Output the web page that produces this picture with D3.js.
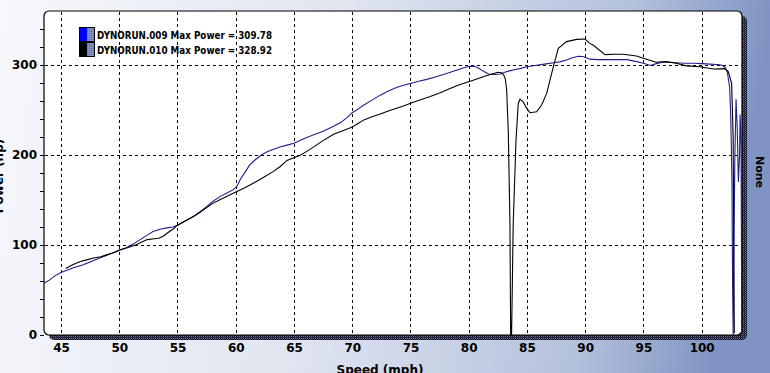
<!DOCTYPE html>
<html>
<head>
    <script type="text/javascript" src="https://cdn.jsdelivr.net/npm/d3@7/dist/d3.min.js" charset="utf-8"></script>
    <style>
        html, body { margin: 0; padding: 0; overflow: hidden; }
        svg { display: block; }
        text { font-family: "DejaVu Sans", Verdana, sans-serif; font-weight: bold; }
    </style>
</head>
<body>
    <div id="viz"></div>
    <script type="text/javascript">
    //Size of the picture
    var width = 770;
    var height = 373;

    //Plot frame (pixels)
    var plotLeft = 44, plotTop = 11, plotRight = 742, plotBottom = 335;

    //Tick values
    var speedTicks = [45, 50, 55, 60, 65, 70, 75, 80, 85, 90, 95, 100];
    var powerTicks = [0, 100, 200, 300];
    var powerMinorTicks = [20, 40, 60, 80, 120, 140, 160, 180, 220, 240, 260, 280, 320, 340];

    //Legend labels
    var runNames = ["DYNORUN.009 Max Power = 309.78", "DYNORUN.010 Max Power = 328.92"];

    //DYNORUN.009 (speed in mph, power in hp)
    var run009Speed = [43.54, 44.0, 44.5, 45.0, 45.5, 46.0, 46.9, 47.5, 48.0, 49.0, 50.0, 50.6, 51.2, 51.8, 52.4, 52.9,
        53.5, 54.1, 54.6, 55.0, 55.7, 56.4, 57.0, 57.5, 58.0, 58.6, 59.2, 59.8, 60.1, 60.4, 60.8, 61.2, 61.7, 62.2,
        62.7, 63.2, 63.8, 64.4, 65.0, 65.5, 66.1, 66.8, 67.5, 68.0, 68.4, 69.0, 69.5, 70.0, 70.5, 71.0, 71.7, 72.4,
        73.1, 73.8, 74.4, 75.0, 75.7, 76.4, 77.2, 78.1, 78.8, 79.4, 80.0, 80.5, 80.9, 81.2, 81.7, 82.2, 82.7, 83.1,
        83.5, 84.0, 84.4, 85.0, 85.7, 86.5, 87.3, 87.8, 88.4, 88.9, 89.4, 89.8, 90.1, 90.4, 91.0, 92.0, 93.0, 93.6,
        94.3, 95.0, 95.6, 96.1, 96.7, 97.2, 97.8, 98.5, 99.3, 100.0, 100.7, 101.3, 101.7, 102.0, 102.2, 102.4, 102.5,
        102.6, 102.65, 102.7, 102.75, 102.85, 102.95, 103.05, 103.15, 103.25, 103.3, 103.38, 103.44];
    var run009Power = [57.5, 61, 66, 69.5, 72, 74.5, 78, 81, 84, 89, 94, 97, 101, 106, 111, 115,
        117.5, 119, 120, 122, 127, 132, 137.5, 142.5, 148, 153.5, 157.5, 161.5, 165, 173, 181, 189, 195, 200,
        203.5, 206, 209, 211, 213, 216, 219.5, 223, 226.5, 229.5, 232, 236, 241, 247, 251, 255.5, 261, 266.5,
        271, 275, 277.5, 279.5, 282, 284, 287, 290.5, 293.5, 296, 298.5, 298.5, 296, 293.5, 290, 289.5, 290, 292,
        293.5, 295, 296, 298, 299.5, 301, 302.5, 303.5, 305.5, 308, 309.8, 309.5, 308, 306.5, 306, 306, 306, 306,
        304, 302, 299.5, 301.5, 303.5, 303, 302.5, 302, 302, 301.5, 301, 300.5, 300, 297.5, 292, 275, 240,
        170, 60, 0, 80, 200, 262, 230, 170, 200, 245, 210, 5];

    //DYNORUN.010 (speed in mph, power in hp)
    var run010Speed = [45.4, 46.0, 46.6, 47.2, 47.8, 48.4, 48.9, 49.5, 50.0, 50.7, 51.4, 51.9, 52.4, 53.0, 53.4, 53.8,
        54.1, 54.6, 55.0, 55.7, 56.4, 57.0, 57.5, 58.0, 58.6, 59.3, 60.0, 60.7, 61.5, 62.3, 63.2, 63.8, 64.4, 65.0,
        65.5, 66.1, 66.7, 67.5, 68.4, 69.2, 70.0, 70.5, 71.0, 71.7, 72.4, 73.1, 73.8, 74.4, 75.0, 75.8, 76.7, 77.5,
        78.4, 79.2, 80.0, 80.7, 81.5, 82.0, 82.5, 82.8, 83.0, 83.15, 83.26, 83.4, 83.54, 83.6, 83.68, 83.82, 84.06,
        84.25, 84.4, 84.68, 84.97, 85.26, 85.83, 86.26, 86.69, 87.26, 87.69, 88.4, 89.27, 89.98, 90.4, 90.7, 91.7,
        92.5, 93.27, 94.4, 95.6, 96.1, 96.97, 97.8, 98.7, 99.85, 101.0, 102.0, 102.28, 102.57, 102.7, 102.8];
    var run010Power = [74, 78, 81.5, 83.5, 85.5, 87, 89, 91.5, 94.5, 97, 100, 103, 106, 107, 107.5, 110,
        113, 117.5, 122, 127, 132, 137, 141.5, 146, 150, 154.5, 159, 163, 168.5, 174.5, 181.5, 187, 194, 197,
        199.5, 204, 209, 216, 223, 227, 231, 235, 239, 242.5, 245.5, 249, 252, 254.5, 257.5, 261, 265, 269,
        274, 278, 281.5, 284.5, 288, 290, 292, 291.5, 289, 284, 272, 224, 124, 0, 0, 124, 217,
        257, 262, 259, 252, 247, 248, 255.5, 268.5, 298, 318.5, 326, 328.5, 328.9, 324, 322, 311.5,
        312, 312, 310, 305, 303, 303.7, 302, 299, 298, 295.6, 296, 292.6, 279.6, 220, 2];

    //Scales
    var x = d3.scaleLinear().domain([43.54, 103.46]).range([plotLeft, plotRight]);
    var y = d3.scaleLinear().domain([0, 360]).range([plotBottom, plotTop]);

    //Main SVG
    var svg = d3.select("#viz").append("svg")
        .attr("width", width)
        .attr("height", height);

    var defs = svg.append("defs");

    //Background gradient (light on the left, steel blue on the right)
    var bg = defs.append("linearGradient").attr("id", "bg")
        .attr("x1", "0%").attr("y1", "0%").attr("x2", "100%").attr("y2", "8%");
    bg.append("stop").attr("offset", "0%").attr("stop-color", "#f7f8fc");
    bg.append("stop").attr("offset", "45%").attr("stop-color", "#e0e5f0");
    bg.append("stop").attr("offset", "82%").attr("stop-color", "#b4c1dc");
    bg.append("stop").attr("offset", "100%").attr("stop-color", "#7f94c3");

    //Dotted dark pattern for the frame shadow
    var shade = defs.append("pattern").attr("id", "shade")
        .attr("width", 2).attr("height", 2).attr("patternUnits", "userSpaceOnUse");
    shade.append("rect").attr("width", 2).attr("height", 2).attr("fill", "#15152a");
    shade.append("rect").attr("x", 1).attr("width", 1).attr("height", 1).attr("fill", "#7070a8");
    shade.append("rect").attr("y", 1).attr("width", 1).attr("height", 1).attr("fill", "#3a3a58");

    //Dotted pattern for the legend swatches
    var swatch = defs.append("pattern").attr("id", "swatch")
        .attr("width", 2).attr("height", 2).attr("patternUnits", "userSpaceOnUse");
    swatch.append("rect").attr("width", 2).attr("height", 2).attr("fill", "#8593c4");
    swatch.append("rect").attr("width", 1).attr("height", 1).attr("fill", "#5a68a0");

    defs.append("clipPath").attr("id", "plotClip")
        .append("rect").attr("x", plotLeft).attr("y", plotTop)
        .attr("width", plotRight - plotLeft).attr("height", plotBottom - plotTop);

    svg.append("rect").attr("width", width).attr("height", height).attr("fill", "url(#bg)");

    //Frame with shadow
    svg.append("rect")
        .attr("x", plotLeft + 5).attr("y", plotTop + 5)
        .attr("width", plotRight - plotLeft).attr("height", plotBottom - plotTop)
        .attr("rx", 5).attr("fill", "url(#shade)");
    svg.append("rect")
        .attr("x", plotLeft).attr("y", plotTop)
        .attr("width", plotRight - plotLeft).attr("height", plotBottom - plotTop)
        .attr("rx", 5).attr("fill", "#ffffff")
        .attr("stroke", "#000").attr("stroke-width", 1.2);

    //Grid
    var grid = svg.append("g").attr("stroke", "#000").attr("stroke-width", 1).attr("stroke-dasharray", "3,3");
    grid.selectAll(".vx").data(speedTicks).enter().append("line")
        .attr("x1", function(d) { return Math.round(x(d)) + 0.5; })
        .attr("x2", function(d) { return Math.round(x(d)) + 0.5; })
        .attr("y1", plotTop + 1).attr("y2", plotBottom);
    grid.selectAll(".hy").data(powerTicks.filter(function(d) { return d > 0; })).enter().append("line")
        .attr("y1", function(d) { return Math.round(y(d)) + 0.5; })
        .attr("y2", function(d) { return Math.round(y(d)) + 0.5; })
        .attr("x1", plotLeft + 1).attr("x2", plotRight);

    //Axes
    var yMajor = svg.append("g").attr("transform", "translate(" + plotLeft + ",0)")
        .call(d3.axisLeft(y).tickValues(powerTicks).tickSize(4).tickPadding(3));
    var yMinor = svg.append("g").attr("transform", "translate(" + plotLeft + ",0)")
        .call(d3.axisLeft(y).tickValues(powerMinorTicks).tickSize(4).tickFormat(""));
    var xAxis = svg.append("g").attr("transform", "translate(0," + plotBottom + ")")
        .call(d3.axisBottom(x).tickValues(speedTicks).tickSize(0).tickPadding(8.5));

    [yMajor, yMinor, xAxis].forEach(function(g) {
        g.select(".domain").remove();
        g.selectAll("text").attr("font-size", 12).attr("font-family", "DejaVu Sans").attr("font-weight", "bold").attr("fill", "#000");
        g.selectAll("line").attr("stroke", "#000");
    });

    //Axis titles
    svg.append("text").attr("x", 380).attr("y", 374).attr("text-anchor", "middle")
        .attr("font-size", 12).text("Speed (mph)");
    svg.append("text").attr("transform", "translate(3,176) rotate(-90)").attr("text-anchor", "middle")
        .attr("font-size", 12).text("Power (hp)");
    svg.append("text").attr("transform", "translate(756,172) rotate(90)").attr("text-anchor", "middle")
        .attr("font-size", 11).text("None");

    //Curves
    var line = d3.line().x(function(d) { return x(d[0]); }).y(function(d) { return y(d[1]); });
    var plot = svg.append("g").attr("clip-path", "url(#plotClip)");

    plot.append("path")
        .datum(d3.zip(run009Speed, run009Power))
        .attr("d", line).attr("fill", "none")
        .attr("stroke", "#1e1e8c").attr("stroke-width", 1.1);
    plot.append("path")
        .datum(d3.zip(run010Speed, run010Power))
        .attr("d", line).attr("fill", "none")
        .attr("stroke", "#000").attr("stroke-width", 1.1);

    //Legend
    var legend = svg.append("g").attr("transform", "translate(79,27)");
    var swatchColors = ["#0000ff", "#000000"];
    var rows = legend.selectAll("g").data(runNames).enter().append("g")
        .attr("transform", function(d, i) { return "translate(0," + (i * 15) + ")"; });
    rows.append("rect").attr("width", 8).attr("height", 15)
        .attr("fill", function(d, i) { return swatchColors[i]; });
    rows.append("rect").attr("x", 8).attr("width", 7).attr("height", 15).attr("fill", "url(#swatch)");
    rows.append("rect").attr("x", 0.5).attr("y", 0.5).attr("width", 15).attr("height", 14)
        .attr("fill", "none").attr("stroke", "#000").attr("stroke-width", 1);
    rows.append("text").attr("x", 18).attr("y", 11.5).attr("font-size", 10)
        .attr("textLength", 175).attr("lengthAdjust", "spacingAndGlyphs")
        .attr("fill", "#000").text(function(d) { return d; });
    </script>
</body>
</html>
